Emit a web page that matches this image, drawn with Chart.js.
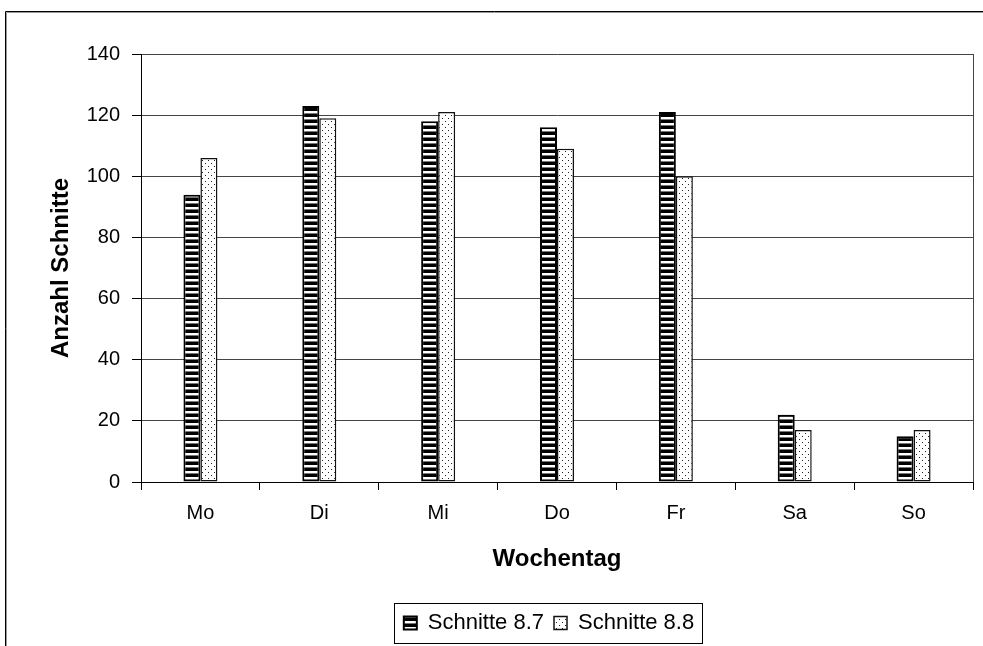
<!DOCTYPE html>
<html>
<head>
<meta charset="utf-8">
<script src="https://cdn.jsdelivr.net/npm/chart.js@4"></script>
<style>
  html, body { margin: 0; padding: 0; background: #fff; }
  #wrap { width: 983px; height: 646px; }
</style>
</head>
<body>
<div id="wrap"><canvas id="chart" width="983" height="646"></canvas></div>
<script>
const days = ["Mo", "Di", "Mi", "Do", "Fr", "Sa", "So"];
const schnitte87 = [94, 123, 118, 116, 121, 22, 15];
const schnitte88 = [106, 119, 121, 109, 100, 17, 17];
const seriesLabels = ["Schnitte 8.7", "Schnitte 8.8"];
const yTicks = [0, 20, 40, 60, 80, 100, 120, 140];

const canvas = document.getElementById("chart");
const ctx = canvas.getContext("2d");

// horizontal black/white stripes, like the old Excel fill
function stripePattern() {
  const c = document.createElement("canvas");
  c.width = 6;
  c.height = 6;
  const g = c.getContext("2d");
  g.fillStyle = "#fff";
  g.fillRect(0, 0, 6, 6);
  g.fillStyle = "#000";
  g.fillRect(0, 0, 6, 3);
  g.fillStyle = "#777";
  g.fillRect(0, 5, 6, 1);
  return ctx.createPattern(c, "repeat");
}

// sparse dots on white
function dotPattern() {
  const c = document.createElement("canvas");
  c.width = 6;
  c.height = 6;
  const g = c.getContext("2d");
  g.fillStyle = "#fff";
  g.fillRect(0, 0, 6, 6);
  g.fillStyle = "#222";
  g.fillRect(1, 1, 1, 1);
  g.fillRect(4, 4, 1, 1);
  return ctx.createPattern(c, "repeat");
}

const tickFont = { family: "'Liberation Sans', Arial, sans-serif", size: 20 };
const titleFont = { family: "'Liberation Sans', Arial, sans-serif", size: 24, weight: "bold" };

const framePlugin = {
  id: "frame",
  afterLayout(chart) {
    // center the legend under the plot, not the whole canvas
    const lg = chart.legend;
    if (!lg) return;
    lg.left = chart.chartArea.left - 16;
    lg.right = chart.chartArea.right;
    lg.width = lg.right - lg.left;
  },
  beforeDraw(chart) {
    const c = chart.ctx;
    c.save();
    c.fillStyle = "#fff";
    c.fillRect(0, 0, chart.width, chart.height);
    c.lineWidth = 1;
    c.strokeStyle = "#000";
    c.beginPath();
    c.moveTo(5.5, chart.height);
    c.lineTo(5.5, 11.5);
    c.lineTo(chart.width, 11.5);
    c.stroke();
    c.strokeStyle = "#999";
    c.beginPath();
    c.moveTo(6.5, chart.height);
    c.lineTo(6.5, 12.5);
    c.lineTo(chart.width, 12.5);
    c.stroke();
    c.restore();
  },
  beforeDatasetsDraw(chart) {
    const a = chart.chartArea;
    const c = chart.ctx;
    c.save();
    c.strokeStyle = "#444";
    c.lineWidth = 1;
    c.beginPath();
    c.moveTo(Math.round(a.right) + 0.5, a.top);
    c.lineTo(Math.round(a.right) + 0.5, a.bottom);
    c.stroke();
    c.restore();
  },
  afterDraw(chart) {
    const hb = chart.legend && chart.legend.legendHitBoxes;
    if (!hb || !hb.length) return;
    const first = hb[0];
    const last = hb[hb.length - 1];
    const l = Math.round(first.left - 10) + 0.5;
    const r = Math.round(last.left + last.width + 8) + 0.5;
    const t = Math.round(first.top - 9) + 0.5;
    const b = Math.round(first.top + first.height + 9) + 0.5;
    const c = chart.ctx;
    c.save();
    c.strokeStyle = "#000";
    c.lineWidth = 1;
    c.strokeRect(l, t, r - l, b - t);
    c.restore();
  },
};

new Chart(canvas, {
  type: "bar",
  data: {
    labels: days,
    datasets: [
      {
        label: seriesLabels[0],
        data: schnitte87,
        backgroundColor: stripePattern(),
        borderColor: "#000",
        borderWidth: 2,
        borderSkipped: false,
        categoryPercentage: 0.286,
        barPercentage: 1,
      },
      {
        label: seriesLabels[1],
        data: schnitte88,
        backgroundColor: dotPattern(),
        borderColor: "#111",
        borderWidth: 1.5,
        borderSkipped: false,
        categoryPercentage: 0.286,
        barPercentage: 1,
      },
    ],
  },
  options: {
    responsive: false,
    animation: false,
    devicePixelRatio: 1,
    layout: { padding: { left: 0, top: 54, right: 10, bottom: 2 } },
    plugins: {
      tooltip: { enabled: false },
      legend: {
        position: "bottom",
        labels: {
          font: { family: "'Liberation Sans', Arial, sans-serif", size: 22 },
          color: "#000",
          boxWidth: 13,
          boxHeight: 13,
          padding: 10,
        },
      },
    },
    scales: {
      x: {
        offset: true,
        grid: {
          offset: true,
          drawOnChartArea: false,
          tickLength: 8,
          tickColor: "#000",
        },
        border: { color: "#000", width: 1 },
        ticks: { font: tickFont, color: "#000", padding: 11 },
        title: {
          display: true,
          text: "Wochentag",
          font: titleFont,
          color: "#000",
          padding: { top: 0, bottom: 28 },
        },
        afterFit: (s) => {
          s.height = 120;
        },
      },
      y: {
        min: 0,
        max: 140,
        afterBuildTicks: (s) => {
          s.ticks = yTicks.map((v) => ({ value: v }));
        },
        grid: { color: "#444", tickLength: 9, tickColor: "#000" },
        border: { color: "#000", width: 1 },
        ticks: { font: tickFont, color: "#000", padding: 12 },
        title: {
          display: true,
          text: "Anzahl Schnitte",
          font: titleFont,
          color: "#000",
          padding: { top: 47, bottom: 0 },
        },
        afterFit: (s) => {
          s.width = 141;
        },
      },
    },
  },
  plugins: [framePlugin],
});
</script>
</body>
</html>
